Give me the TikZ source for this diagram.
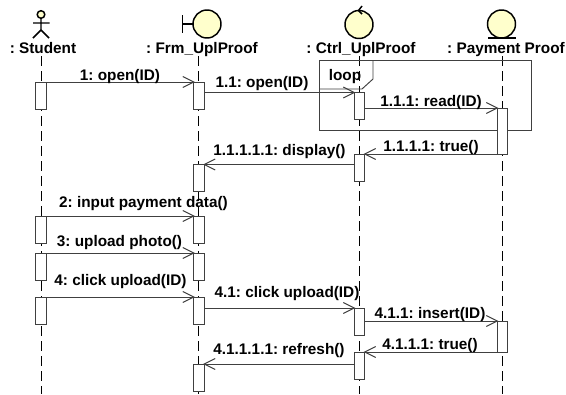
\documentclass[tikz,border=0pt]{standalone}
\usepackage{fontspec}
\setmainfont{Liberation Sans}
\usetikzlibrary{calc}
\frenchspacing
\definecolor{iconfill}{HTML}{FFFFCC}
\definecolor{linegray}{HTML}{404040}
\tikzset{
  x=0.75pt,y=-0.75pt,
  lifeline/.style={draw=black,line width=0.7pt,dash pattern=on 7.5pt off 3.75pt},
  actbox/.style={draw=linegray,fill=white,line width=0.7pt,minimum width=7.8pt,inner sep=0pt,outer sep=0pt,anchor=north},
  msg/.style={draw=linegray,line width=0.75pt},
  tipline/.style={draw=linegray,line width=0.75pt},
  lbl/.style={font=\frenchspacing\bfseries\fontsize{11.5}{13}\selectfont,inner sep=0pt,text=black,text height=8.1pt,text depth=0pt},
  icon/.style={draw=black,line width=1.1pt,fill=iconfill},
  iconline/.style={draw=black,line width=1.1pt},
  frameline/.style={draw=linegray,line width=0.7pt}
}
\newcommand{\arrR}[1]{\draw[tipline] ($(#1)+(-11,-5.5)$) -- (#1) -- ($(#1)+(-11,5.5)$);}
\newcommand{\arrL}[1]{\draw[tipline] ($(#1)+(11,-5.5)$) -- (#1) -- ($(#1)+(11,5.5)$);}
\begin{document}
\begin{tikzpicture}
\useasboundingbox (0,0) rectangle (566,394);
\fill[white] (0,0) rectangle (566,394);
% lifelines
\coordinate (s0) at (41,56); \coordinate (s1) at (41,394);
\coordinate (f0) at (198.5,56); \coordinate (f1) at (198.5,394);
\coordinate (c0) at (359.5,56); \coordinate (c1) at (359.5,394);
\coordinate (p0) at (502.5,56); \coordinate (p1) at (502.5,394);
\draw[lifeline] (s0)--(s1);
\draw[lifeline] (f0)--(f1);
\draw[lifeline] (c0)--(c1);
\draw[lifeline] (p0)--(p1);
% loop frame
\draw[frameline] (319,60) rectangle (531,130);
\draw[frameline] (373,60)--(373,79)--(362,89)--(319,89);
\node[lbl] (loopl) at (345,75) {loop};
% activations
\node[actbox,minimum height=20.25pt] (s1a) at (41,82) {};
\node[actbox,minimum height=20.25pt] (f1a) at (199,82) {};
\node[actbox,minimum height=20.25pt] (c1a) at (359.5,92.5) {};
\node[actbox,minimum height=34.5pt] (p1a) at (502.5,108) {};
\node[actbox,minimum height=20.25pt] (c2a) at (359.5,154) {};
\node[actbox,minimum height=20.25pt] (f2a) at (199,164.5) {};
\node[actbox,minimum height=20.25pt] (s3a) at (41,216) {};
\node[actbox,minimum height=20.25pt] (f3a) at (199,216) {};
\node[actbox,minimum height=20.25pt] (s4a) at (41,253) {};
\node[actbox,minimum height=20.25pt] (f4a) at (199,253) {};
\node[actbox,minimum height=20.25pt] (s5a) at (41,297) {};
\node[actbox,minimum height=20.25pt] (f5a) at (199,297) {};
\node[actbox,minimum height=20.25pt] (c3a) at (359.5,308) {};
\node[actbox,minimum height=23.25pt] (p2a) at (502.5,321) {};
\node[actbox,minimum height=20.25pt] (c4a) at (359.5,352) {};
\node[actbox,minimum height=20.25pt] (f6a) at (199,364) {};
% messages
\draw[msg] (s1a.north east)--(f1a.north west); \arrR{f1a.north west}
\draw[msg] (f1a.east |- c1a.north)--(c1a.north west); \arrR{c1a.north west}
\draw[msg] (c1a.east |- p1a.north)--(p1a.north west); \arrR{p1a.north west}
\draw[msg] (p1a.south west)--(c2a.north east); \arrL{c2a.north east}
\draw[msg] (c2a.west |- f2a.north)--(f2a.north east); \arrL{f2a.north east}
\draw[msg] (s3a.north east)--(f3a.north west); \arrR{f3a.north west}
\draw[msg] (s4a.north east)--(f4a.north west); \arrR{f4a.north west}
\draw[msg] (s5a.north east)--(f5a.north west); \arrR{f5a.north west}
\draw[msg] (f5a.east |- c3a.north)--(c3a.north west); \arrR{c3a.north west}
\draw[msg] (c3a.east |- p2a.north)--(p2a.north west); \arrR{p2a.north west}
\draw[msg] (p2a.south west)--(c4a.north east); \arrL{c4a.north east}
\draw[msg] (c4a.west |- f6a.north)--(f6a.north east); \arrL{f6a.north east}
% message labels
\node[lbl] (m1) at (120,75) {1: open(ID)};
\node[lbl] (m2) at (262,82) {1.1: open(ID)};
\node[lbl] (m3) at (431,101.5) {1.1.1: read(ID)};
\node[lbl] (m4) at (431,146) {1.1.1.1: true()};
\node[lbl] (m5) at (279.5,150) {1.1.1.1.1: display()};
\node[lbl] (m6) at (143.5,202) {2: input payment data()};
\node[lbl] (m7) at (119.5,241) {3: upload photo()};
\node[lbl] (m8) at (120.5,280) {4: click upload(ID)};
\node[lbl] (m9) at (287,292) {4.1: click upload(ID)};
\node[lbl] (m10) at (430,313) {4.1.1: insert(ID)};
\node[lbl] (m11) at (430,344) {4.1.1.1: true()};
\node[lbl] (m12) at (279,349) {4.1.1.1.1: refresh()};
% names
\node[lbl] (n1) at (43,47.6) {: Student};
\node[lbl] (n2) at (202,47.6) {: Frm\_UplProof};
\node[lbl] (n3) at (361,47.6) {: Ctrl\_UplProof};
\node[lbl] (n4) at (506,47.6) {: Payment Proof};
% actor
\draw[icon] (41,14.5) circle[radius=3.8];
\draw[iconline] (41,18.5)--(41,30) (33,23)--(49.5,23) (33,38)--(41,30)--(49,38);
% boundary
\draw[iconline] (182.5,15)--(182.5,33) (182.5,24)--(193,24);
\draw[icon] (207,24) circle[radius=14];
% control
\draw[icon] (359,24.5) circle[radius=14];
\draw[iconline] (362,6)--(358.5,10.5)--(362,14);
% entity
\draw[icon] (501.5,24) circle[radius=14];
\draw[iconline] (488,38)--(516,38);
\end{tikzpicture}
\end{document}
